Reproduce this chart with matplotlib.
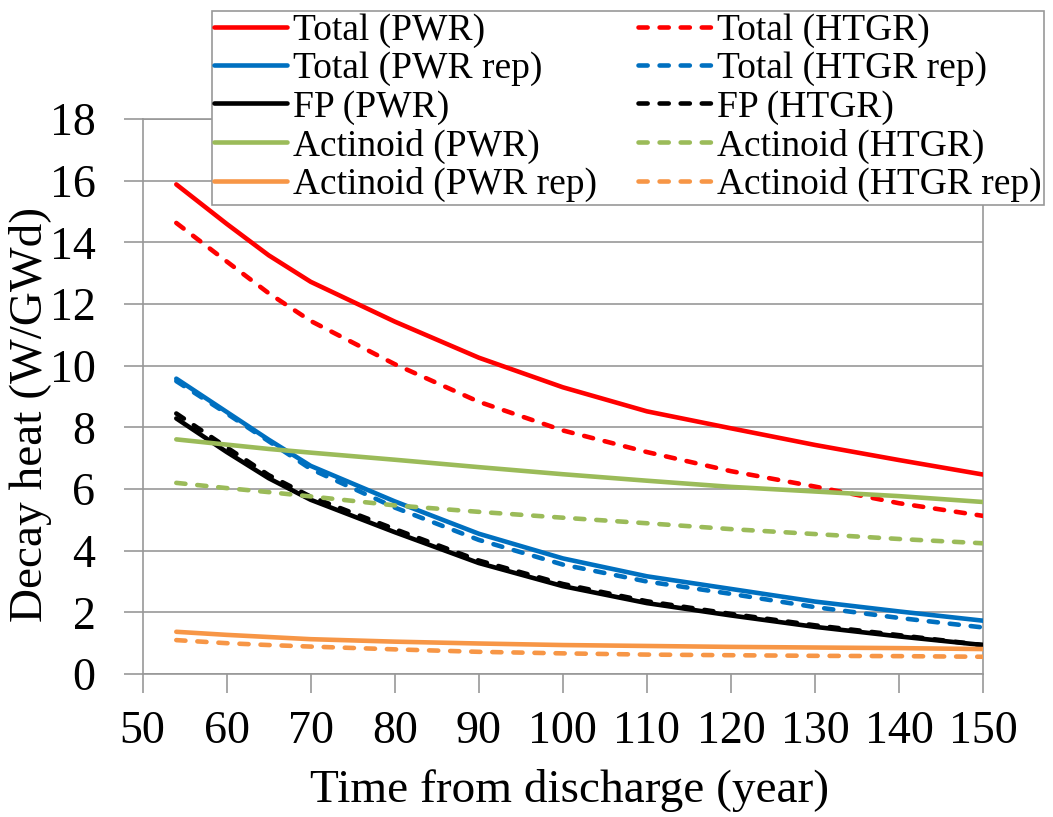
import matplotlib
matplotlib.use("Agg")
import matplotlib.pyplot as plt
import numpy as np

plt.rcParams['font.family'] = ['Liberation Serif', 'DejaVu Serif']

years = [54, 60, 65, 70, 80, 90, 100, 110, 120, 130, 140, 150]

total_pwr = [15.88, 14.6, 13.58, 12.72, 11.43, 10.26, 9.3, 8.52, 7.97, 7.43, 6.94, 6.47]
total_htgr = [14.63, 13.38, 12.35, 11.45, 10.05, 8.83, 7.9, 7.2, 6.58, 6.08, 5.54, 5.13]
total_pwr_rep = [9.58, 8.5, 7.6, 6.75, 5.6, 4.55, 3.75, 3.17, 2.76, 2.35, 2.03, 1.73]
total_htgr_rep = [9.5, 8.45, 7.55, 6.65, 5.4, 4.35, 3.55, 3.0, 2.6, 2.17, 1.82, 1.51]
fp_pwr = [8.29, 7.2, 6.35, 5.65, 4.6, 3.6, 2.85, 2.3, 1.9, 1.53, 1.22, 0.94]
fp_htgr = [8.45, 7.35, 6.45, 5.75, 4.7, 3.68, 2.92, 2.36, 1.95, 1.58, 1.26, 0.94]
act_pwr = [7.61, 7.44, 7.3, 7.18, 6.95, 6.71, 6.48, 6.27, 6.07, 5.92, 5.77, 5.58]
act_htgr = [6.2, 6.03, 5.9, 5.76, 5.47, 5.26, 5.07, 4.89, 4.7, 4.54, 4.38, 4.24]
act_pwr_rep = [1.37, 1.27, 1.2, 1.13, 1.05, 0.99, 0.94, 0.91, 0.88, 0.86, 0.84, 0.81]
act_htgr_rep = [1.1, 1.0, 0.94, 0.89, 0.8, 0.72, 0.67, 0.63, 0.61, 0.59, 0.58, 0.56]

labels = ["Total (PWR)", "Total (HTGR)", "Total (PWR rep)", "Total (HTGR rep)",
          "FP (PWR)", "FP (HTGR)", "Actinoid (PWR)", "Actinoid (HTGR)",
          "Actinoid (PWR rep)", "Actinoid (HTGR rep)"]
series = [total_pwr, total_htgr, total_pwr_rep, total_htgr_rep, fp_pwr, fp_htgr,
          act_pwr, act_htgr, act_pwr_rep, act_htgr_rep]
colors = ["#FF0000", "#FF0000", "#0070C0", "#0070C0", "#000000", "#000000",
          "#9BBB59", "#9BBB59", "#F79646", "#F79646"]
dashed = [False, True] * 5

xticks = list(range(50, 151, 10))
yticks = list(range(0, 19, 2))

fig = plt.figure(figsize=(10.53, 8.17), dpi=100)
ax = fig.add_axes([0.1355, 0.175, 0.798, 0.6793])

grid_col = "#989898"
handles = []
for y, c, d, lab in zip(series, colors, dashed, labels):
    if d:
        h, = ax.plot(years, y, color=c, lw=3.3, dashes=(2.0, 2.6),
                     dash_capstyle='round', label=lab, zorder=3)
    else:
        h, = ax.plot(years, y, color=c, lw=3.3, solid_capstyle='round',
                     label=lab, zorder=3)
    handles.append(h)

ax.set_xlim(50, 150)
ax.set_ylim(0, 18)
ax.set_xticks(xticks)
ax.set_yticks(yticks)
ax.yaxis.grid(True, color=grid_col, lw=1.2)
ax.set_axisbelow(True)
for s in ax.spines.values():
    s.set_color(grid_col)
    s.set_linewidth(1.2)
ax.tick_params(axis='both', direction='out', color=grid_col, width=1.2,
               length=14, labelsize=33)
ax.tick_params(axis='x', pad=12)
ax.tick_params(axis='y', pad=20)

ax.set_xlabel("Time from discharge (year)", fontsize=34)
ax.set_ylabel("Decay heat (W/GWd)", fontsize=34)
ax.xaxis.label.set_va('center')
ax.yaxis.label.set_va('center')
ax.xaxis.set_label_coords(0.5075, -0.209)
ax.yaxis.set_label_coords(-0.134, 0.468)

# legend order: left column solid, right column dashed
order = [0, 2, 4, 6, 8, 1, 3, 5, 7, 9]
leg = ax.legend([handles[i] for i in order], [labels[i] for i in order],
                ncol=2, loc='upper left',
                bbox_to_anchor=(212 / 1053, 1 - 11 / 817),
                bbox_transform=fig.transFigure,
                fontsize=27, frameon=True, fancybox=False, framealpha=1,
                edgecolor=grid_col, borderpad=0.06, labelspacing=0.1,
                handlelength=1.95, handletextpad=0.15, columnspacing=1.1,
                borderaxespad=0)
leg.get_frame().set_linewidth(1.2)
leg.set_zorder(10)

fig.savefig("out.png", dpi=100)
